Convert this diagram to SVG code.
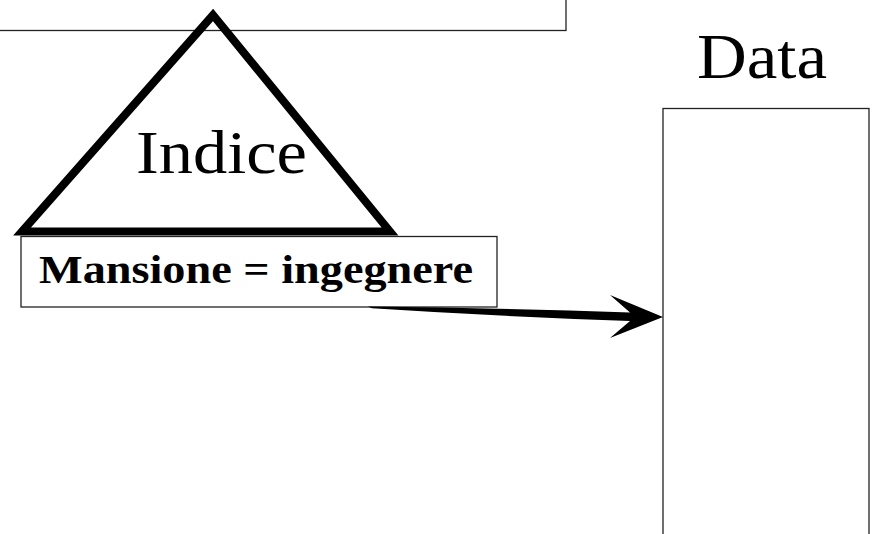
<svg xmlns="http://www.w3.org/2000/svg" width="872" height="534" viewBox="0 0 872 534">
<style>
.box{fill:#fff;stroke:#222;stroke-width:1.3}
.lbl{font-family:"Liberation Serif","DejaVu Serif",serif;fill:#000}
</style>
<rect x="0" y="0" width="872" height="534" fill="#fff"/>
<g id="top-box">
<rect class="box" x="-10" y="-10" width="576" height="40.5"/>
</g>
<g id="indice">
<text class="lbl" x="136" y="173" font-size="62" textLength="171" lengthAdjust="spacingAndGlyphs">Indice</text>
<path d="M22,231.5 L213,15 L390,231.5 Z" fill="none" stroke="#000" stroke-width="8" stroke-linejoin="miter"/>
</g>
<g id="mansione">
<rect class="box" x="21" y="236.5" width="476" height="70.5"/>
<text class="lbl" x="39" y="283" font-size="41" font-weight="bold" textLength="434" lengthAdjust="spacingAndGlyphs">Mansione = ingegnere</text>
</g>
<g id="data">
<text class="lbl" x="697" y="78" font-size="64" textLength="130" lengthAdjust="spacingAndGlyphs">Data</text>
<rect class="box" x="663" y="108.5" width="206" height="440" stroke-width="1.8" stroke="#111"/>
</g>
<g id="connectors">
<path d="M368,306.5 Q500,308 630,312.5 L610,295 L663,317 L610,338 L630,321 Q500,316.5 372,308.2 Z" fill="#000"/>
</g>
</svg>
